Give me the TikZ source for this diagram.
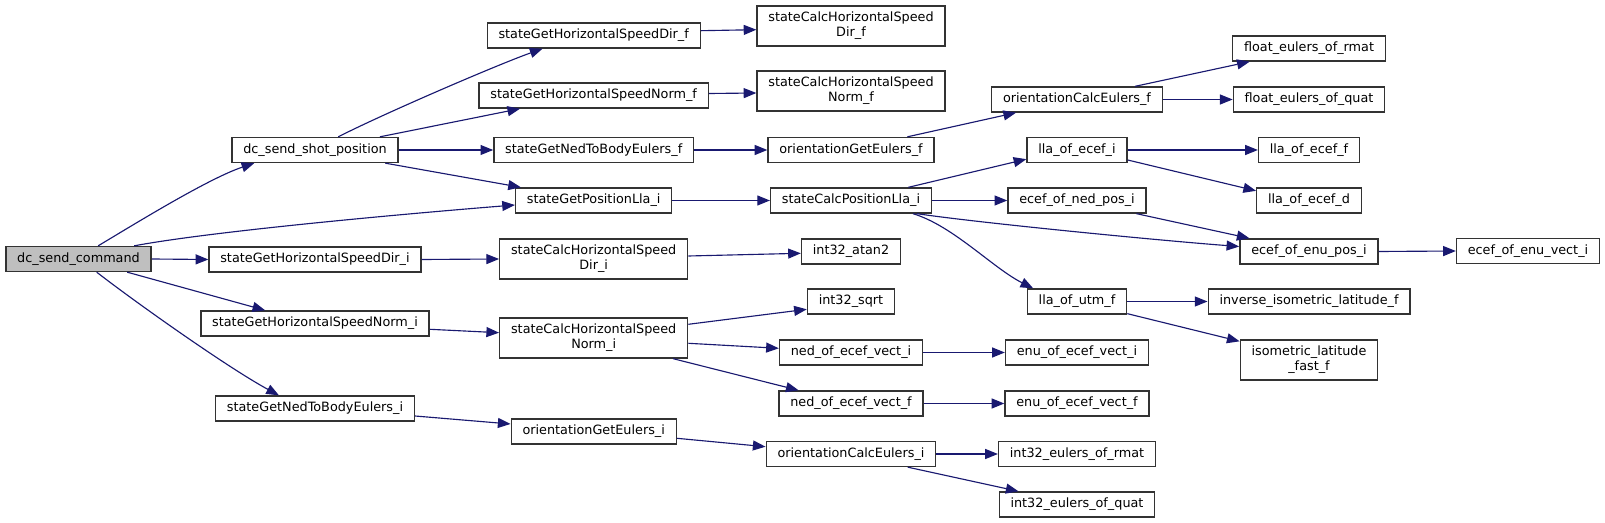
\documentclass[tikz,border=0pt]{standalone}
\usepackage{fontspec}
\setmainfont{DejaVu Sans}
\usepackage{tikz}
\usetikzlibrary{arrows.meta, calc}
\definecolor{edgeblue}{HTML}{191970}
\definecolor{rootgray}{HTML}{BFBFBF}
\tikzset{
    base/.style = {rectangle, draw=black!80, line width=1pt, fill=white, minimum height=18.75pt, inner xsep=8.5pt, inner ysep=2pt, font=\fontsize{9.6}{11.3}\selectfont},
    root/.style = {base, fill=rootgray},
    twoline/.style = {base, align=center, minimum height=30pt},
    arrow/.style = {line width=0.85pt, draw=edgeblue, -{Triangle[length=9.5pt, width=7.5pt]}}
}

\begin{document}
\begin{tikzpicture}[x=0.75pt, y=-0.75pt]
        \useasboundingbox (0,0) rectangle (1605,523);

        % Caller
        \node (cmd) [root] at (78.5,259) {dc\_send\_command};

        % Column 1
        \node (shotpos) [base] at (315,150) {dc\_send\_shot\_position};
        \node (getdiri) [base] at (315,259.5) {stateGetHorizontalSpeedDir\_i};
        \node (getnormi) [base] at (315,323.5) {stateGetHorizontalSpeedNorm\_i};
        \node (getnedi) [base] at (315,408.5) {stateGetNedToBodyEulers\_i};

        % Column 2
        \node (getdirf) [base] at (593.7,35.5) {stateGetHorizontalSpeedDir\_f};
        \node (getnormf) [base] at (593.7,95.5) {stateGetHorizontalSpeedNorm\_f};
        \node (getnedf) [base] at (593.7,150) {stateGetNedToBodyEulers\_f};
        \node (getposlla) [base] at (593.7,200.5) {stateGetPositionLla\_i};
        \node (calcdiri) [twoline] at (593.7,259) {stateCalcHorizontalSpeed\\Dir\_i};
        \node (calcnormi) [twoline] at (593.7,338) {stateCalcHorizontalSpeed\\Norm\_i};
        \node (geteuli) [base] at (593.7,431.5) {orientationGetEulers\_i};

        % Column 3
        \node (calcdirf) [twoline] at (851,26) {stateCalcHorizontalSpeed\\Dir\_f};
        \node (calcnormf) [twoline] at (851,91) {stateCalcHorizontalSpeed\\Norm\_f};
        \node (geteulf) [base] at (851,150) {orientationGetEulers\_f};
        \node (calcposlla) [base] at (851,200.5) {stateCalcPositionLla\_i};
        \node (atan) [base] at (851,251.5) {int32\_atan2};
        \node (sqrt) [base] at (851,301.5) {int32\_sqrt};
        \node (nedveci) [base] at (851,352.5) {ned\_of\_ecef\_vect\_i};
        \node (nedvecf) [base] at (851,403.5) {ned\_of\_ecef\_vect\_f};
        \node (calceuli) [base] at (851,454) {orientationCalcEulers\_i};

        % Column 4
        \node (calceulf) [base] at (1077,99.5) {orientationCalcEulers\_f};
        \node (llaecefi) [base] at (1077,150) {lla\_of\_ecef\_i};
        \node (ecefnedpos) [base] at (1077,200.5) {ecef\_of\_ned\_pos\_i};
        \node (llautm) [base] at (1077,301.5) {lla\_of\_utm\_f};
        \node (enuveci) [base] at (1077,352.5) {enu\_of\_ecef\_vect\_i};
        \node (enuvecf) [base] at (1077,403.5) {enu\_of\_ecef\_vect\_f};
        \node (rmati) [base] at (1077,454) {int32\_eulers\_of\_rmat};
        \node (quati) [base] at (1077,504.5) {int32\_eulers\_of\_quat};

        % Column 5
        \node (rmatf) [base] at (1309,48.5) {float\_eulers\_of\_rmat};
        \node (quatf) [base] at (1309,99.5) {float\_eulers\_of\_quat};
        \node (llaeceff) [base] at (1309,150) {lla\_of\_ecef\_f};
        \node (llaecefd) [base] at (1309,200.5) {lla\_of\_ecef\_d};
        \node (ecefenupos) [base] at (1309,251.5) {ecef\_of\_enu\_pos\_i};
        \node (invisolat) [base] at (1309,301.5) {inverse\_isometric\_latitude\_f};
        \node (isolat) [twoline] at (1309,360) {isometric\_latitude\\\_fast\_f};

        % Column 6
        \node (ecefenuvec) [base] at (1528,251) {ecef\_of\_enu\_vect\_i};

        % Calls from dc_send_command
        \draw [arrow] ($(cmd.north west)+(93,0)$) .. controls +(40,-24) and +(-45,15) .. ($(shotpos.south west)+(23,0)$);
        \draw [arrow] ($(cmd.north west)+(129,0)$) .. controls +(80,-15) and +(-100,8) .. ($(getposlla.west)+(0,4.5)$);
        \draw [arrow] (cmd.east) -- (getdiri.west);
        \draw [arrow] ($(cmd.south west)+(122,0)$) -- ($(getnormi.north west)+(65,0)$);
        \draw [arrow] ($(cmd.south west)+(91.5,0)$) .. controls +(40,31) and +(-50,-27) .. ($(getnedi.north west)+(64,0)$);

        % Calls from dc_send_shot_position
        \draw [arrow] ($(shotpos.north west)+(107,0)$) .. controls +(45,-23) and +(-45,16) .. ($(getdirf.south west)+(56,0)$);
        \draw [arrow] ($(shotpos.north west)+(148.7,0)$) -- ($(getnormf.south west)+(41.7,0)$);
        \draw [arrow] (shotpos.east) -- (getnedf.west);
        \draw [arrow] ($(shotpos.south west)+(154,0)$) -- ($(getposlla.north west)+(6,0)$);

        % Second level
        \draw [arrow] ($(getdirf.east)+(0,-4.8)$) -- ($(calcdirf.west)+(0,3.7)$);
        \draw [arrow] ($(getnormf.east)+(0,-2)$) -- ($(calcnormf.west)+(0,2)$);
        \draw [arrow] (getnedf.east) -- (geteulf.west);
        \draw [arrow] (getposlla.east) -- (calcposlla.west);
        \draw [arrow] (getdiri.east) -- (calcdiri.west);
        \draw [arrow] ($(getnormi.east)+(0,5.8)$) -- ($(calcnormi.west)+(0,-5.3)$);
        \draw [arrow] ($(getnedi.east)+(0,7.5)$) -- ($(geteuli.west)+(0,-7.5)$);

        % Third level
        \draw [arrow] ($(geteulf.north west)+(140,0)$) -- ($(calceulf.south west)+(25,0)$);
        \draw [arrow] ($(calcdiri.east)+(0,-3)$) -- ($(atan.west)+(0,1.8)$);
        \draw [arrow] ($(calcnormi.east)+(0,-13.7)$) -- ($(sqrt.west)+(0,7.8)$);
        \draw [arrow] ($(calcnormi.east)+(0,5.3)$) -- ($(nedveci.west)+(0,-4.2)$);
        \draw [arrow] ($(calcnormi.south west)+(174,0)$) -- ($(nedvecf.north west)+(20.3,0)$);
        \draw [arrow] ($(geteuli.east)+(0,6.8)$) -- ($(calceuli.west)+(0,-7.3)$);

        % Fourth level
        \draw [arrow] ($(calcposlla.north west)+(138.4,0)$) -- ($(llaecefi.south west)+(0,-4)$);
        \draw [arrow] (calcposlla.east) -- (ecefnedpos.west);
        \draw [arrow] ($(calcposlla.south west)+(147,0)$) .. controls +(60,9) and +(-80,-6) .. ($(ecefenupos.west)+(0,-5)$);
        \draw [arrow] ($(calcposlla.south west)+(143,0)$) .. controls +(40,12) and +(-40,-20) .. ($(llautm.north west)+(6.5,0)$);
        \draw [arrow] (nedveci.east) -- (enuveci.west);
        \draw [arrow] (nedvecf.east) -- (enuvecf.west);
        \draw [arrow] (calceuli.east) -- (rmati.west);
        \draw [arrow] ($(calceuli.south west)+(142.2,0)$) -- ($(quati.north west)+(20,0)$);

        % Fifth level
        \draw [arrow] ($(calceulf.north west)+(144,0)$) -- ($(rmatf.south west)+(17.7,0)$);
        \draw [arrow] (calceulf.east) -- (quatf.west);
        \draw [arrow] (llaecefi.east) -- (llaeceff.west);
        \draw [arrow] ($(llaecefi.east)+(0,10)$) -- ($(llaecefd.north west)+(0,3.5)$);
        \draw [arrow] ($(ecefnedpos.south west)+(129.2,0)$) -- ($(ecefenupos.north west)+(10.3,0)$);
        \draw [arrow] (llautm.east) -- (invisolat.west);
        \draw [arrow] ($(llautm.south east)+(0,-1)$) -- ($(isolat.north west)+(0,2)$);

        % Last call
        \draw [arrow] (ecefenupos.east) -- (ecefenuvec.west);
    \end{tikzpicture}
\end{document}
